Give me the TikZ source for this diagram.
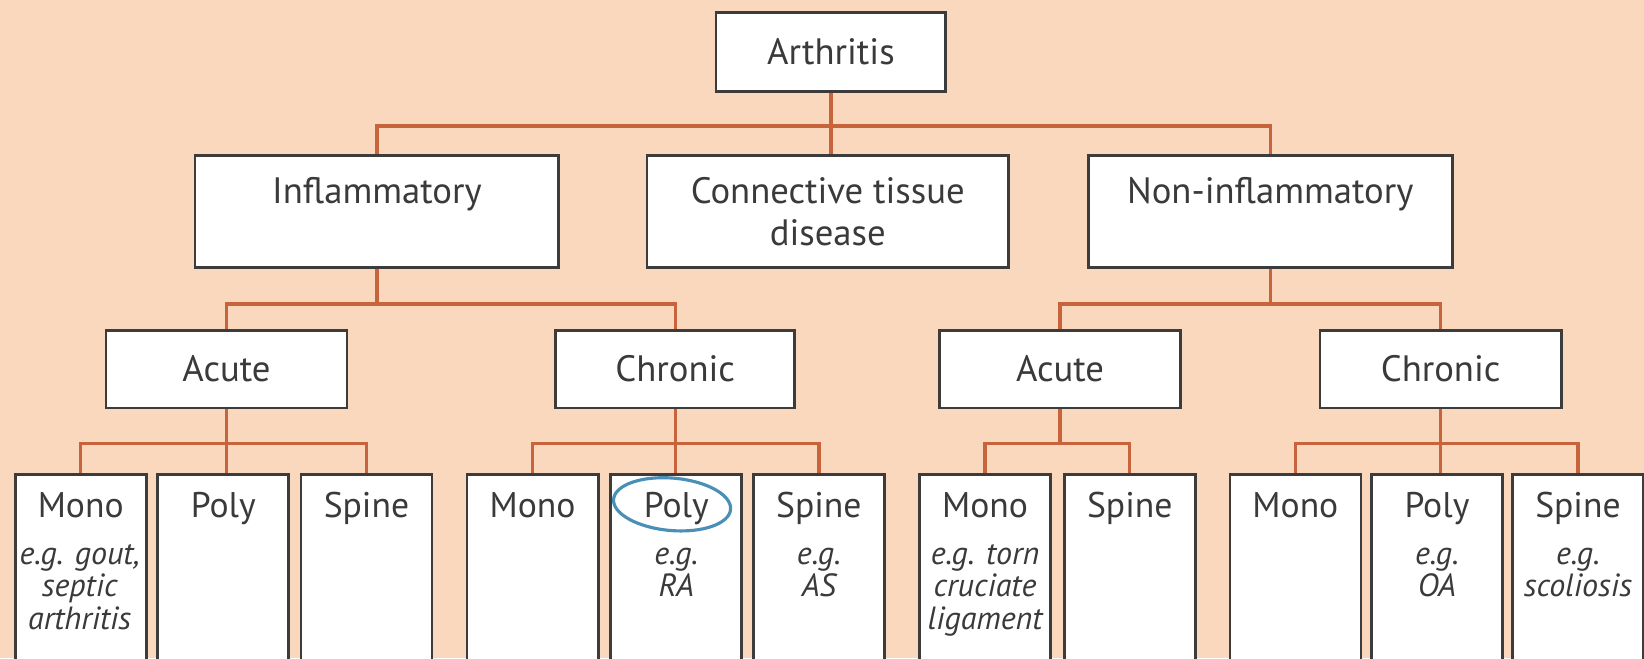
\documentclass[tikz,border=0pt]{standalone}
\usepackage{fontspec}
\setmainfont{PT Sans}
\usetikzlibrary{shapes.geometric}
\definecolor{bgpeach}{HTML}{FAD8BE}
\definecolor{conn}{HTML}{C8643C}
\definecolor{boxgray}{HTML}{3C3C3C}
\definecolor{txtgray}{HTML}{3A3A3A}
\definecolor{circblue}{HTML}{4A8FB5}
\begin{document}
\begin{tikzpicture}[x=0.5pt,y=-0.5pt,
  box/.style 2 args={draw=boxgray, fill=white, line width=1.3pt, inner sep=0pt,
    minimum width=#1*0.5pt, minimum height=#2*0.5pt},
  ttl/.style={text=txtgray, inner sep=0pt, font=\fontsize{17.5}{20}\selectfont, align=center},
  leaft/.style={text=txtgray, inner sep=0pt, font=\fontsize{17}{17}\selectfont, anchor=base},
  ex/.style={text=txtgray, inner sep=0pt, font=\itshape\fontsize{15.3}{15.5}\selectfont, align=center, anchor=base},
  cn/.style={draw=conn, line width=1.6pt},
  leaf/.style={box={125}{260}, anchor=north}
]
\clip (0,0) rectangle (1568,628);
\fill[bgpeach] (0,0) rectangle (1568,628);

% level 1
\node[box={219}{75}] (arth) at (792.5,49.5) {};
\node[ttl] (tarth) at (arth.center) {Arthritis};

% level 2
\node[box={347}{107}] (infl) at (359.5,201.5) {};
\node[box={345}{107}] (ctd) at (789.5,201.5) {};
\node[box={347}{107}] (ninf) at (1211.5,201.5) {};
\node[ttl, anchor=base] (tinfl) at (359.5,194) {Inflammatory};
\node[ttl, anchor=base] (tctd) at (789.5,234) {Connective tissue\\disease};
\node[ttl, anchor=base] (tninf) at (1211.5,194) {Non-inflammatory};

% level 3
\node[box={230}{74}] (acL) at (216,352) {};
\node[box={228}{74}] (chL) at (644,352) {};
\node[box={230}{74}] (acR) at (1011,352) {};
\node[box={230}{74}] (chR) at (1374,352) {};
\node[ttl] (tacL) at (acL.center) {Acute};
\node[ttl] (tchL) at (chL.center) {Chronic};
\node[ttl] (tacR) at (acR.center) {Acute};
\node[ttl] (tchR) at (chR.center) {Chronic};

% level 4
\node[leaf] (l1) at (77,451) {};
\node[leaf] (l2) at (213,451) {};
\node[leaf] (l3) at (349.5,451) {};
\node[leaf] (l4) at (508,451) {};
\node[leaf] (l5) at (645,451) {};
\node[leaf] (l6) at (781,451) {};
\node[leaf] (l7) at (939.5,451) {};
\node[leaf] (l8) at (1077.5,451) {};
\node[leaf] (l9) at (1235.5,451) {};
\node[leaf] (l10) at (1370.5,451) {};
\node[leaf] (l11) at (1505,451) {};

\node[leaft] (t1) at (77,494) {Mono};
\node[leaft] (t2) at (213,494) {Poly};
\node[leaft] (t3) at (349.5,494) {Spine};
\node[leaft] (t4) at (508,494) {Mono};
\node[leaft] (t5) at (645,494) {Poly};
\node[leaft] (t6) at (781,494) {Spine};
\node[leaft] (t7) at (939.5,494) {Mono};
\node[leaft] (t8) at (1077.5,494) {Spine};
\node[leaft] (t9) at (1235.5,494) {Mono};
\node[leaft] (t10) at (1370.5,494) {Poly};
\node[leaft] (t11) at (1505,494) {Spine};

\node[ex] (e1) at (76,600) {e.g. gout,\\septic\\arthritis};
\node[ex] (e5) at (645,569) {e.g.\\RA};
\node[ex] (e6) at (781,569) {e.g.\\AS};
\node[ex] (e7) at (939.5,600) {e.g. torn\\cruciate\\ligament};
\node[ex] (e10) at (1370.5,569) {e.g.\\OA};
\node[ex] (e11) at (1505,569) {e.g.\\scoliosis};

% connectors
\coordinate (bus0) at (792.5,120);
\draw[cn] (arth.south) -- (arth.south |- ctd.north);
\draw[cn] (infl.north) |- (bus0) -| (ninf.north);

\coordinate (bus1) at (359.5,290);
\draw[cn] (infl.south) -- (bus1);
\draw[cn] (acL.north) |- (bus1) -| (chL.north);
\coordinate (bus2) at (1211.5,290);
\draw[cn] (ninf.south) -- (bus2);
\draw[cn] (acR.north) |- (bus2) -| (chR.north);

\coordinate (bus3) at (216,423);
\draw[cn] (acL.south) -- (acL.south |- l2.north);
\draw[cn] (l1.north) |- (bus3) -| (l3.north);
\coordinate (bus4) at (644,423);
\draw[cn] (chL.south) -- (chL.south |- l5.north);
\draw[cn] (l4.north) |- (bus4) -| (l6.north);
\coordinate (bus5) at (1011,423);
\draw[cn] (acR.south) -- (bus5);
\draw[cn] (l7.north) |- (bus5) -| (l8.north);
\coordinate (bus6) at (1374,423);
\draw[cn] (chR.south) -- (chR.south |- l10.north);
\draw[cn] (l9.north) |- (bus6) -| (l11.north);

% hand-drawn circle
\node[ellipse, draw=circblue, line width=1.5pt, minimum width=56pt, minimum height=25pt, inner sep=0pt, rotate=-5] (circ) at (641,481) {};
\end{tikzpicture}
\end{document}
